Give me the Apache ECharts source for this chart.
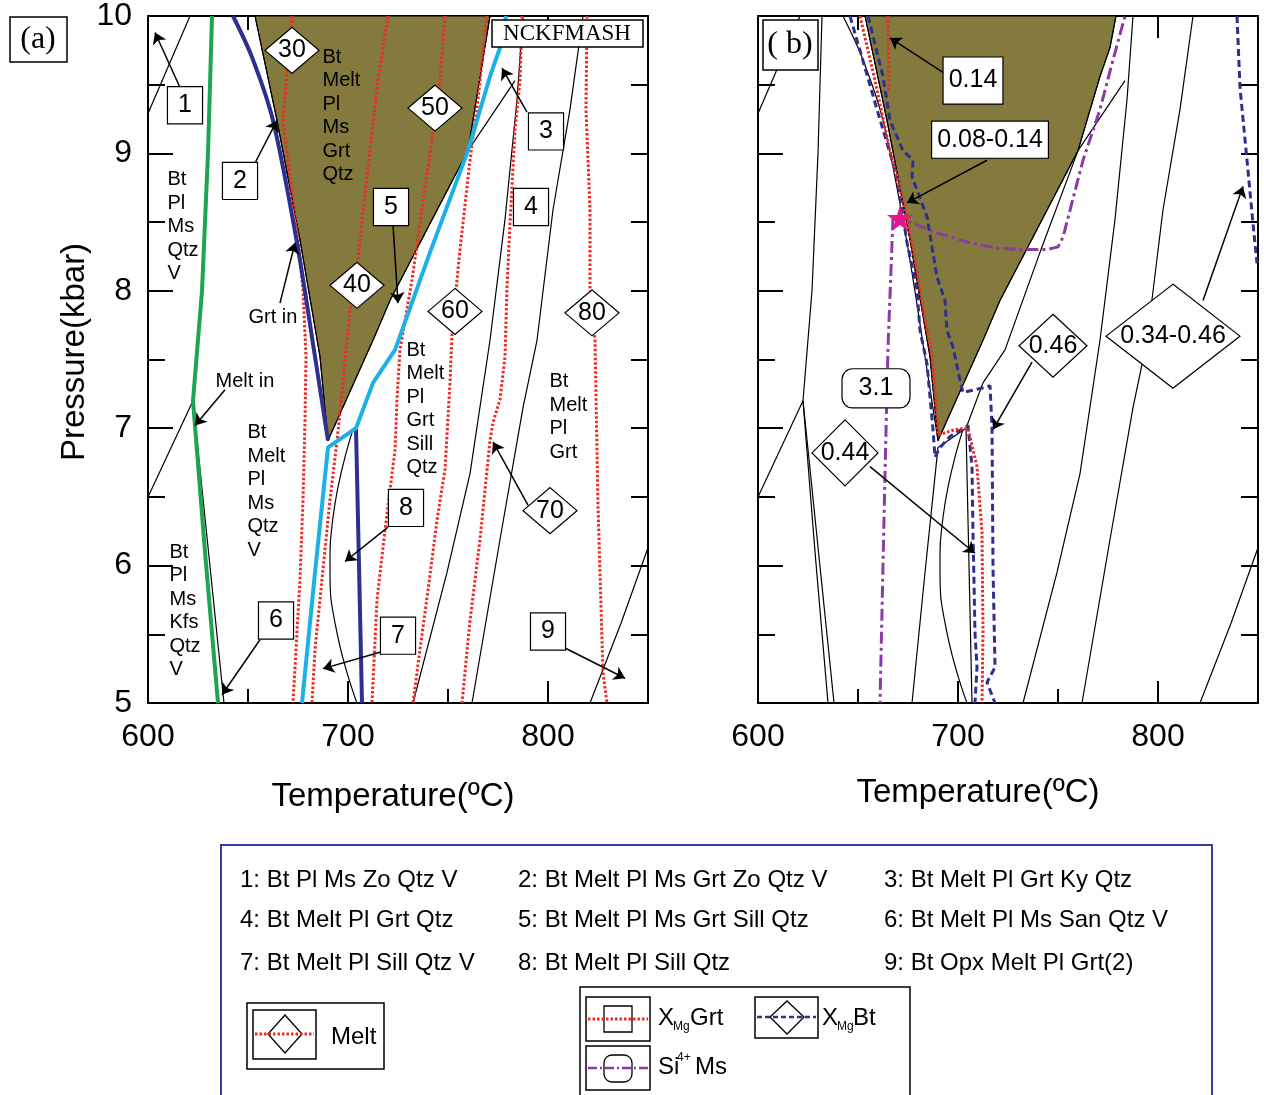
<!DOCTYPE html>
<html>
<head>
<meta charset="utf-8">
<script src="https://cdn.jsdelivr.net/npm/echarts@6/dist/echarts.min.js"></script>
<style>
  html, body { margin: 0; padding: 0; background: #fff; }
  #chart { width: 1264px; height: 1095px; }
</style>
</head>
<body>
<div id="chart"></div>
<script>
// ---- phase boundaries, [T (°C), P (kbar)] ----
const solidus    = [[632,10],[630,9],[627,8],[622.5,7.2],[628.5,6.1],[635,5]]
const solidus2   = [[622.5,7.2],[638,5]]
const leftLine   = [[600,6.5],[622.5,7.2]]
const topLeft    = [[600,9.29],[621,10]]
const grtIn      = [[642.5,10],[652,9.7],[662.5,9.24],[674.5,8.35],[683.5,7.52],[690,6.91]]
const grtIn2     = [[704,7.0],[705.5,6],[707,5]]
const sillIn     = [[677,5],[683.5,5.95],[690,6.86],[704,7.0],[712.5,7.33],[723.5,7.57],[741,8.28],[760,9.02],[771,9.56],[776,9.77],[779,10]]
const oliveLeft  = [[653.5,10],[664.5,9.24],[676,8.37],[686,7.52],[690,6.91]]
const oliveRight = [[690,6.91],[712.5,7.64],[721,7.93],[760,9.02],[783.5,9.53]]
const oliveTopA  = [[760,9.02],[771,10]]
const line4      = [[732.5,5],[749.5,5.95],[761,6.67],[771,7.64],[778.5,8.52],[784.5,9.39],[787.5,10]]
const line5      = [[762,5],[776,6.19],[787.5,7.15],[794.5,7.64],[802.5,8.59],[811,9.32],[817.5,10]]
const line9      = [[821,5],[836.5,5.58],[850,6.13]]
const curve8     = [[702.5,6.99],[692.5,6.35],[691,5.99],[694.5,5.51],[704.5,5]]

// ---- melt isopleths (panel a) ----
const melt30 = [[672,10],[669.5,9.59],[667.5,9.24],[671,8.83],[675,8.37],[677.5,8.01],[679,7.52],[678.5,7.06],[677.5,6.48],[676,5.9],[674,5.39],[672.5,5]]
const melt40 = [[720,10],[715,9.53],[711,9.02],[707,8.52],[704.5,8.15],[701,7.86],[697,7.26],[694.5,6.91],[691,6.48],[687,5.9],[683.5,5.39],[682,5]]
const melt50 = [[748.5,10],[746,9.53],[742.5,9.15],[737,8.59],[732,8.08],[726,7.57],[724.5,7.21],[723.5,6.84],[718.5,6.26],[714.5,5.75],[712,5]]
const melt60 = [[769.5,10],[765,9.39],[761,8.95],[756,8.3],[753.5,7.93],[752,7.69],[751,7.33],[748.5,6.7],[744.5,6.33],[740,5.82],[736,5.39],[732.5,5]]
const melt70 = [[787,10],[786,9.53],[783.5,9.17],[781,8.49],[779.5,8.03],[778.5,7.52],[776,7.21],[772.5,7.04],[771,6.91],[766,6.19],[761,5.6],[757,5]]
const melt80 = [[819.5,10],[819,9.32],[821,8.59],[821,8.03],[823.5,7.64],[825,6.43],[827.5,5.22],[829.5,5]]

// ---- panel b isopleths ----
const xmgGrt    = [[651,10],[658.5,9.53],[666,9.02],[672.5,8.66],[678.5,8.22],[683.5,7.79],[687,7.52],[689.5,7.06],[690,6.95],[698.5,6.99],[705,7.0],[709.5,6.72],[712,6.24],[712.5,5.51],[712,5]]
const xmgGrt014 = [[665,10],[665.5,9.45]]
const xmgBtIn   = [[646,10],[659.5,9.32],[669.5,8.83],[674.5,8.35],[679.5,8.01],[681,7.71],[684.5,7.47],[687.5,6.99],[688.5,6.79],[691,6.86],[696,6.94],[705,7.02],[707,6.72],[707.5,6.24],[708.5,5.51],[709.5,5.26],[708.5,5]]
const xmgBtOut  = [[655,10],[662.5,9.56],[666,9.24],[672.5,9.02],[677.5,8.95],[677,8.83],[684.5,8.54],[689.5,8.1],[693.5,7.93],[694.5,7.71],[697.5,7.59],[701,7.35],[702.5,7.26],[714.5,7.3],[716,7.31],[717,7.01],[717.5,5.99],[718.5,5.26],[714.5,5.15],[718.5,5]]
const xmgBtHot  = [[839.5,10],[841,9.48],[844.5,8.95],[847.5,8.49],[849.5,8.2]]
const siMs31    = [[667.5,8.53],[665,7.59],[663.5,6.67],[661,5]]
const siMsCurve = [[667.5,8.53],[676,8.5],[689.5,8.42],[706,8.35],[719.5,8.31],[731,8.3],[744.5,8.3],[750,8.32],[752.5,8.39],[762.5,8.95],[771,9.32],[777.5,9.68],[783.5,10]]
const starPoint = [671,8.53]

// ---- annotations ----
const boxA = [['1',618.5,9.35],['2',646,8.8],['3',799,9.16],['4',791.5,8.61],['5',721.5,8.61],['6',664,5.6],['7',725,5.49],['8',729,6.42],['9',800,5.52]]
const meltLabels = [['30',672,9.75],['40',704.5,8.04],['50',743.5,9.33],['60',753.5,7.85],['70',801,6.4],['80',822,7.84]]
const fieldA = [
  ['Bt\nPl\nMs\nQtz\nV', 610, 8.89],
  ['Bt\nMelt\nPl\nMs\nGrt\nQtz', 687.5, 9.78],
  ['Bt\nMelt\nPl\nMs\nQtz\nV', 650, 7.05],
  ['Bt\nPl\nMs\nKfs\nQtz\nV', 611, 6.18],
  ['Bt\nMelt\nPl\nGrt\nSill\nQtz', 729.5, 7.65],
  ['Bt\nMelt\nPl\nGrt', 801, 7.42],
  ['Grt in', 650.5, 7.89],
  ['Melt in', 634, 7.42]
]
const arrowsA = [
  [[616,9.48],[603.5,9.88]], [[653.5,8.93],[664.5,9.24]], [[789.5,9.3],[777,9.62]],
  [[722.5,8.48],[725,7.91]], [[656,5.46],[637,5.06]], [[716,5.37],[687.5,5.25]],
  [[720,6.28],[698.5,6.03]], [[808.5,5.4],[838.5,5.18]], [[790,6.44],[772.5,6.9]],
  [[666,7.91],[673.5,8.35]], [[638.5,7.28],[623.5,7.02]]
]
const boxB = [['0.14',707.5,9.53],['0.08-0.14',716,9.1]]
const roundB = [['3.1',659,7.29]]
const diamondB = [['0.44',643.5,6.82],['0.46',747.5,7.6],['0.34-0.46',807.5,7.67]]
const arrowsB = [
  [[692.5,9.59],[666,9.84]], [[714.5,8.95],[674.5,8.64]], [[656,6.72],[708.5,6.09]],
  [[737,7.48],[717.5,6.99]], [[822.5,7.93],[842.5,8.76]]
]
const legendRows = [
  ['1: Bt Pl Ms Zo Qtz V', '2: Bt Melt Pl Ms Grt Zo Qtz V', '3: Bt Melt Pl Grt Ky Qtz'],
  ['4: Bt Melt Pl Grt Qtz', '5: Bt Melt Pl Ms Grt Sill Qtz', '6: Bt Melt Pl Ms San Qtz V'],
  ['7: Bt Melt Pl Sill Qtz V', '8: Bt Melt Pl Sill Qtz', '9: Bt Opx Melt Pl Grt(2)']
]

const FONT = 'Liberation Sans, Arial, Helvetica, sans-serif'
const SERIF = 'Liberation Serif, Times New Roman, serif'
const OLIVE = '#857a3d'
const RED = '#ee2b25'
const NAVY = '#2e2f8e'
const CYAN = '#1cb0e8'
const GREEN = '#1aa653'
const PURPLE = '#8d3aa7'

const chart = echarts.init(document.getElementById('chart'))

const tickStyle = { color: '#000', width: 2 }
function xAx(grid, pos, labels) {
  return {
    type: 'value', gridIndex: grid, position: pos, min: 600, max: 850, interval: 100,
    axisLine: { show: true, onZero: false, lineStyle: { color: '#000', width: 2 } },
    axisTick: { show: true, inside: true, length: 22, lineStyle: tickStyle },
    minorTick: { show: true, splitNumber: 2, length: 14, lineStyle: tickStyle },
    splitLine: { show: false },
    axisLabel: {
      show: labels, color: '#000', fontSize: 32, fontFamily: FONT, margin: 18,
      formatter: v => (v % 100 === 0 && v < 850) ? String(v) : ''
    }
  }
}
function yAx(grid, pos, labels) {
  const right = pos === 'right'
  return {
    type: 'value', gridIndex: grid, position: pos, min: 5, max: 10, interval: right ? 0.5 : 1,
    axisLine: { show: true, onZero: false, lineStyle: { color: '#000', width: 2 } },
    axisTick: { show: true, inside: true, length: right ? 17 : 25, lineStyle: tickStyle },
    minorTick: { show: !right, splitNumber: 2, length: 17, lineStyle: tickStyle },
    splitLine: { show: false },
    axisLabel: {
      show: labels, color: '#000', fontSize: 32, fontFamily: FONT, margin: 16,
      formatter: v => Number.isInteger(v) ? String(v) : ''
    }
  }
}

function line(gi, data, style, z, smooth) {
  return {
    type: 'line', xAxisIndex: gi * 2, yAxisIndex: gi * 2, data: data,
    showSymbol: false, symbol: 'none', smooth: smooth || false, silent: true,
    lineStyle: style, z: z
  }
}
const thin = { color: '#000', width: 1.2 }
const redDot = { color: RED, width: 3, type: [2.5, 2] }

function olive(gi, pts) {
  return {
    type: 'custom', xAxisIndex: gi * 2, yAxisIndex: gi * 2, silent: true, z: 1,
    data: [[700, 7]],
    renderItem: (params, api) => ({
      type: 'polygon',
      shape: { points: pts.map(p => api.coord(p)) },
      style: { fill: OLIVE, stroke: '#000', lineWidth: 1 }
    })
  }
}

function labels(gi, items, label, extra) {
  return Object.assign({
    type: 'scatter', xAxisIndex: gi * 2, yAxisIndex: gi * 2, silent: true, z: 6,
    symbolSize: 1, itemStyle: { color: 'rgba(0,0,0,0)', opacity: 1 },
    data: items.map(d => ({ value: [d[1], d[2]], name: d[0] })),
    label: Object.assign({ show: true, formatter: p => p.name, color: '#000', opacity: 1, fontFamily: FONT }, label)
  }, extra || {})
}
function arrows(gi, list) {
  return {
    type: 'lines', coordinateSystem: 'cartesian2d', xAxisIndex: gi * 2, yAxisIndex: gi * 2,
    silent: true, z: 5, symbol: ['none', 'arrow'], symbolSize: [0, 11],
    lineStyle: { color: '#000', width: 1.5, opacity: 1, curveness: 0 },
    data: list.map(c => ({ coords: c }))
  }
}
const boxLabel = {
  position: 'inside', fontSize: 25, backgroundColor: '#fff', borderColor: '#000',
  borderWidth: 1.2, padding: [6, 10, 4, 10], lineHeight: 26
}
const diamondStyle = { color: '#fff', borderColor: '#000', borderWidth: 1.2, opacity: 1 }

const oliveA = oliveLeft.concat(oliveRight.slice(1, 4), oliveTopA.slice(1))
const oliveB = oliveLeft.concat(oliveRight.slice(1, 4), sillIn.slice(8))

const series = [
  olive(0, oliveA),
  olive(1, oliveB),
  // panel a black boundaries
  ...[solidus2, leftLine, topLeft, oliveLeft, oliveRight, oliveTopA, line4, line5, line9].map(d => line(0, d, thin, 2)),
  line(0, curve8, thin, 2, 0.5),
  // panel a coloured boundaries
  ...[melt30, melt40, melt50, melt60, melt70, melt80].map(d => line(0, d, redDot, 3)),
  line(0, solidus, { color: GREEN, width: 4 }, 4),
  line(0, grtIn, { color: NAVY, width: 4 }, 4, 0.3),
  line(0, grtIn2, { color: NAVY, width: 4 }, 4),
  line(0, sillIn, { color: CYAN, width: 4 }, 4),
  // panel b black boundaries
  ...[solidus, solidus2, leftLine, topLeft, oliveLeft, oliveRight, line4, line5, line9, grtIn2, sillIn].map(d => line(1, d, thin, 2)),
  line(1, grtIn, thin, 2, 0.3),
  line(1, curve8, thin, 2, 0.5),
  // panel b isopleths
  line(1, xmgBtIn, { color: NAVY, width: 3, type: [7, 4] }, 3),
  line(1, xmgBtOut, { color: NAVY, width: 3, type: [7, 4] }, 3),
  line(1, xmgBtHot, { color: NAVY, width: 3, type: [7, 4] }, 3),
  line(1, xmgGrt, redDot, 4),
  line(1, xmgGrt014, redDot, 4),
  line(1, siMs31, { color: PURPLE, width: 3, type: [12, 4, 3, 4] }, 4),
  line(1, siMsCurve, { color: PURPLE, width: 3, type: [12, 4, 3, 4] }, 4),
  // arrows
  arrows(0, arrowsA),
  arrows(1, arrowsB),
  // labels panel a
  labels(0, fieldA, { position: [0, 0], align: 'left', verticalAlign: 'top', fontSize: 20, lineHeight: 23.5 }),
  labels(0, boxA, boxLabel),
  labels(0, meltLabels, { position: 'inside', fontSize: 25 },
    { symbol: 'diamond', symbolSize: [54, 46], itemStyle: diamondStyle }),
  // labels panel b
  labels(1, boxB.slice(0, 1), Object.assign({}, boxLabel, { padding: [11, 5, 9, 5] })),
  labels(1, boxB.slice(1), Object.assign({}, boxLabel, { padding: [6, 5, 4, 5] })),
  labels(1, roundB, Object.assign({}, boxLabel, { padding: [7, 16, 5, 16], borderRadius: 10 })),
  labels(1, diamondB.slice(0, 1), { position: 'inside', fontSize: 25 },
    { symbol: 'diamond', symbolSize: [66, 66], itemStyle: diamondStyle }),
  labels(1, diamondB.slice(1, 2), { position: 'inside', fontSize: 25 },
    { symbol: 'diamond', symbolSize: [68, 63], itemStyle: diamondStyle }),
  labels(1, diamondB.slice(2), { position: 'inside', fontSize: 25 },
    { symbol: 'diamond', symbolSize: [134, 104], itemStyle: diamondStyle }),
  {
    type: 'scatter', xAxisIndex: 2, yAxisIndex: 2, silent: true, z: 7,
    symbol: 'path://M50,0 L61,35 L98,35 L68,57 L79,91 L50,70 L21,91 L32,57 L2,35 L39,35 Z',
    symbolSize: 26, itemStyle: { color: '#e6178d', opacity: 1 }, data: [starPoint]
  }
]

// legend / frame graphics (pixel layout)
const g = []
const txt = (x, y, text, size, extra) => g.push(Object.assign({
  type: 'text', x: x, y: y, z: 100,
  style: Object.assign({ text: text, fill: '#000', font: size + 'px ' + FONT, textVerticalAlign: 'middle' }, extra || {})
}))
const rect = (x, y, w, h, extra) => g.push({
  type: 'rect', z: 100, shape: Object.assign({ x: x, y: y, width: w, height: h }, extra && extra.shape),
  style: Object.assign({ fill: '#fff', stroke: '#000', lineWidth: 1.5 }, extra && extra.style)
})
const seg = (x1, y1, x2, y2, style) => g.push({
  type: 'line', z: 101, shape: { x1: x1, y1: y1, x2: x2, y2: y2 }, style: style
})

// panel tags
rect(10, 17, 57, 45)
txt(38, 40, '(a)', 32, { font: '32px ' + SERIF, textAlign: 'center' })
rect(763, 20, 55, 50)
txt(790, 45, '( b)', 32, { font: '32px ' + SERIF, textAlign: 'center' })
rect(492, 20, 151, 27)
txt(567, 34, 'NCKFMASH', 23, { font: '23px ' + SERIF, textAlign: 'center' })

// axis titles
g.push({ type: 'text', z: 100, x: 75, y: 352, rotation: Math.PI / 2,
  style: { text: 'Pressure(kbar)', fill: '#000', font: '33px ' + FONT, textAlign: 'center', textVerticalAlign: 'middle' } })
txt(393, 797, 'Temperature(ºC)', 33, { textAlign: 'center' })
txt(978, 793, 'Temperature(ºC)', 33, { textAlign: 'center' })

// legend box
rect(221, 845, 991, 262, { style: { fill: 'none', stroke: '#3a3aa3', lineWidth: 2 } })
const colX = [240, 518, 884]
const rowY = [880, 920, 963]
legendRows.forEach((row, r) => row.forEach((t, c) => txt(colX[c], rowY[r], t, 24)))

// melt key
rect(247, 1003, 137, 66)
rect(253, 1010, 63, 49)
g.push({ type: 'polygon', z: 101, shape: { points: [[285, 1015], [302, 1034], [285, 1053], [268, 1034]] },
  style: { fill: 'none', stroke: '#000', lineWidth: 1.3 } })
seg(255, 1034, 314, 1034, { stroke: RED, lineWidth: 3, lineDash: [2.5, 2] })
txt(331, 1037, 'Melt', 24)

// isopleth key
rect(580, 987, 330, 125)
rect(586, 997, 64, 44)
rect(604, 1006, 28, 26, { style: { fill: 'none', lineWidth: 1.3 } })
seg(588, 1019, 648, 1019, { stroke: RED, lineWidth: 3, lineDash: [2.5, 2] })
txt(658, 1018, 'X', 24)
txt(673, 1027, 'Mg', 12)
txt(690, 1018, 'Grt', 24)
rect(755, 997, 63, 41)
g.push({ type: 'polygon', z: 101, shape: { points: [[787, 1001], [804, 1017], [787, 1034], [770, 1017]] },
  style: { fill: 'none', stroke: '#000', lineWidth: 1.3 } })
seg(757, 1017, 816, 1017, { stroke: NAVY, lineWidth: 2.5, lineDash: [5, 3] })
txt(822, 1018, 'X', 24)
txt(837, 1027, 'Mg', 12)
txt(853, 1018, 'Bt', 24)
rect(586, 1046, 64, 44)
rect(604, 1055, 28, 27, { shape: { r: 8 }, style: { fill: 'none', lineWidth: 1.3 } })
seg(588, 1068, 648, 1068, { stroke: PURPLE, lineWidth: 2.5, lineDash: [9, 3, 2, 3] })
txt(658, 1067, 'Si', 24)
txt(677, 1058, '4+', 12)
txt(695, 1067, 'Ms', 24)

chart.setOption({
  animation: false,
  backgroundColor: '#fff',
  grid: [
    { left: 148, top: 16, width: 500, height: 687 },
    { left: 758, top: 16, width: 500, height: 687 }
  ],
  xAxis: [xAx(0, 'bottom', true), xAx(0, 'top', false), xAx(1, 'bottom', true), xAx(1, 'top', false)],
  yAxis: [yAx(0, 'left', true), yAx(0, 'right', false), yAx(1, 'left', false), yAx(1, 'right', false)],
  series: series,
  graphic: g
})
</script>
</body>
</html>
